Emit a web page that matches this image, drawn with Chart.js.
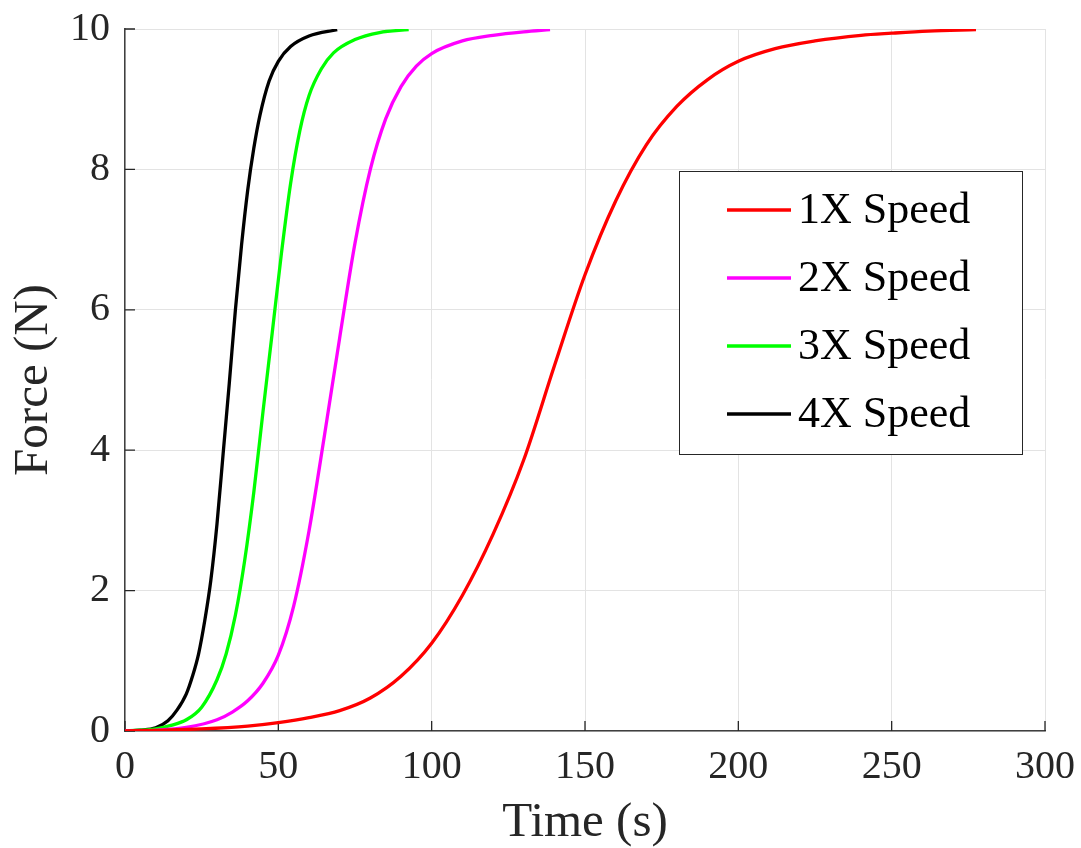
<!DOCTYPE html>
<html lang="en">
  <head>
    <meta charset="UTF-8" />
    <title>Force vs Time</title>
    <script src="https://cdn.jsdelivr.net/npm/chart.js"></script>
    <style>
      body { margin: 0; background: #fff; }
    </style>
  </head>
  <body>
    <canvas id="forceChart" width="1081" height="848"></canvas>

    <script>
      // values: time (s) and force (N) for each speed
      const labels = ["1X Speed", "2X Speed", "3X Speed", "4X Speed"];
      const colors = ["#ff0000", "#ff00ff", "#00ff00", "#000000"];

      const t1 = [0, 10, 25, 40, 50, 60, 70, 80, 90, 100, 110, 120, 130, 140, 150, 160, 170, 180, 190, 200, 212, 225, 240, 250, 262, 277.5];
      const f1 = [0, 0.01, 0.03, 0.07, 0.12, 0.19, 0.29, 0.47, 0.78, 1.25, 1.93, 2.8, 3.86, 5.2, 6.5, 7.55, 8.35, 8.9, 9.28, 9.54, 9.72, 9.83, 9.91, 9.94, 9.97, 9.99];

      const t2 = [0, 10, 20, 30, 35, 40, 45, 50, 55, 60, 65, 70, 75, 80, 85, 90, 95, 100, 110, 120, 130, 138.6];
      const f2 = [0, 0.01, 0.05, 0.16, 0.27, 0.43, 0.68, 1.08, 1.78, 2.85, 4.2, 5.6, 6.95, 8, 8.72, 9.18, 9.47, 9.65, 9.83, 9.91, 9.96, 9.99];

      const t3 = [0, 10, 15, 20, 25, 30, 33, 36, 39, 42, 45, 48, 51, 54, 57, 60, 64, 68, 75, 83, 92.5];
      const f3 = [0, 0.03, 0.08, 0.16, 0.34, 0.73, 1.1, 1.65, 2.42, 3.4, 4.55, 5.67, 6.8, 7.8, 8.55, 9.05, 9.43, 9.66, 9.85, 9.95, 9.99];

      const t4 = [0, 5, 10, 14, 17, 20, 22, 24, 26, 28, 30, 32, 34, 36, 38, 40, 42, 44, 47, 50, 54, 60, 69.2];
      const f4 = [0, 0.012, 0.045, 0.145, 0.3, 0.53, 0.78, 1.1, 1.57, 2.15, 2.95, 3.95, 4.95, 6, 6.92, 7.7, 8.3, 8.77, 9.26, 9.54, 9.75, 9.9, 9.99];

      const times = [t1, t2, t3, t4];
      const forces = [f1, f2, f3, f4];

      const textColor = "#262626";
      const serif = "'Liberation Serif', 'Times New Roman', serif";

      // MATLAB style ticks that point into the plot
      const innerTicks = {
        id: "innerTicks",
        beforeDatasetsDraw(chart) {
          const { ctx, chartArea, scales } = chart;
          ctx.save();
          ctx.strokeStyle = textColor;
          ctx.lineWidth = 1.3;
          ctx.beginPath();
          scales.x.ticks.forEach((tk) => {
            const px = scales.x.getPixelForValue(tk.value);
            ctx.moveTo(px, chartArea.bottom);
            ctx.lineTo(px, chartArea.bottom - 10);
          });
          scales.y.ticks.forEach((tk) => {
            const py = scales.y.getPixelForValue(tk.value);
            ctx.moveTo(chartArea.left, py);
            ctx.lineTo(chartArea.left + 10, py);
          });
          ctx.stroke();
          ctx.restore();
        },
      };

      // legend box inside the plot, upper right
      const boxLegend = {
        id: "boxLegend",
        afterDraw(chart) {
          const { ctx, chartArea } = chart;
          const w = 343, h = 283;
          const x0 = chartArea.right - 23 - w;
          const y0 = chartArea.top + 142;
          ctx.save();
          ctx.fillStyle = "#fff";
          ctx.fillRect(x0, y0, w, h);
          ctx.strokeStyle = textColor;
          ctx.lineWidth = 1;
          ctx.strokeRect(x0 + 0.5, y0 + 0.5, w, h);
          ctx.font = "44px " + serif;
          ctx.textBaseline = "middle";
          chart.data.datasets.forEach((ds, i) => {
            const yy = y0 + 39 + i * 68;
            ctx.strokeStyle = ds.borderColor;
            ctx.lineWidth = 3.3;
            ctx.beginPath();
            ctx.moveTo(x0 + 48, yy);
            ctx.lineTo(x0 + 112, yy);
            ctx.stroke();
            ctx.fillStyle = "#000";
            ctx.fillText(ds.label, x0 + 119, yy + 1);
          });
          ctx.restore();
        },
      };

      const ctx = document.getElementById("forceChart").getContext("2d");

      const chart = new Chart(ctx, {
        type: "line",
        data: {
          datasets: labels.map((name, i) => ({
            label: name,
            data: times[i].map((t, k) => ({ x: t, y: forces[i][k] })),
            borderColor: colors[i],
            borderWidth: 3.3,
            pointRadius: 0,
            fill: false,
            cubicInterpolationMode: "monotone",
          })),
        },
        options: {
          responsive: false,
          animation: false,
          layout: { padding: { top: 29, right: 36, left: 0, bottom: 0 } },
          plugins: {
            legend: { display: false },
            tooltip: { enabled: false },
          },
          scales: {
            x: {
              type: "linear",
              min: 0,
              max: 300,
              ticks: {
                stepSize: 50,
                color: textColor,
                padding: 12,
                font: { family: serif, size: 40 },
              },
              grid: { color: "#e3e3e3", drawTicks: false },
              border: { display: true, color: "#404040", width: 1.5 },
              title: {
                display: true,
                text: "Time (s)",
                color: textColor,
                font: { family: serif, size: 49, lineHeight: 1 },
                padding: { top: 0, bottom: 0 },
              },
              afterFit(scale) {
                scale.height = 117;
                scale.paddingLeft = 0;
                scale.paddingRight = 0;
              },
            },
            y: {
              min: 0,
              max: 10,
              ticks: {
                stepSize: 2,
                color: textColor,
                padding: 15,
                font: { family: serif, size: 40 },
              },
              grid: { color: "#e3e3e3", drawTicks: false },
              border: { display: true, color: "#404040", width: 1.5 },
              title: {
                display: true,
                text: "Force (N)",
                color: textColor,
                font: { family: serif, size: 49, lineHeight: 1 },
                padding: { top: 10, bottom: 0 },
              },
              afterFit(scale) {
                scale.width = 125;
                scale.paddingTop = 0;
                scale.paddingBottom = 0;
              },
            },
          },
        },
        plugins: [innerTicks, boxLegend],
      });
    </script>
  </body>
</html>
